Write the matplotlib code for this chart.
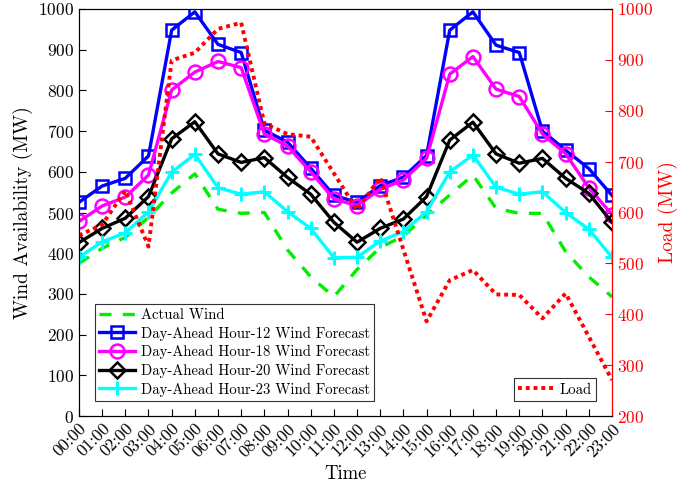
import matplotlib
matplotlib.use("Agg")
import matplotlib.pyplot as plt
import numpy as np

plt.rcParams['font.family'] = ['cmr10', 'DejaVu Serif']
plt.rcParams['axes.unicode_minus'] = False
plt.rcParams['axes.formatter.use_mathtext'] = True

hours = [f"{h:02d}:00" for h in range(24)]

actual_wind = [375, 412, 439, 488, 548, 595, 508, 498, 500, 408, 342, 293,
               360, 414, 442, 494, 543, 592, 510, 498, 498, 404, 342, 293]
da_h12 = [525, 565, 584, 639, 948, 993, 913, 893, 702, 673, 609, 542,
          525, 566, 587, 640, 948, 993, 911, 893, 700, 653, 608, 542]
da_h18 = [478, 516, 538, 592, 801, 845, 871, 856, 693, 663, 600, 533,
          517, 557, 580, 633, 840, 883, 803, 785, 693, 644, 561, 495]
da_h20 = [426, 461, 486, 539, 681, 723, 644, 623, 635, 586, 545, 476,
          427, 461, 484, 539, 678, 722, 644, 621, 633, 584, 547, 476]
da_h23 = [390, 428, 450, 502, 599, 643, 561, 545, 551, 502, 461, 389,
          390, 430, 453, 502, 600, 641, 562, 545, 551, 500, 459, 390]
load = [555, 576, 643, 533, 899, 914, 961, 973, 775, 754, 749, 677,
        605, 669, 527, 386, 467, 487, 439, 438, 392, 441, 356, 271]

x = np.arange(len(hours))

fig = plt.figure(figsize=(6.97, 4.86), dpi=100)
ax = fig.add_axes([0.1133, 0.144, 0.7647, 0.8375])
ax2 = ax.twinx()

lw = 2.4
ax.plot(x, actual_wind, color='#00ee00', ls=(0, (3.6, 3.4)), lw=lw, label='Actual Wind')
ax.plot(x, da_h12, color='#0000ff', lw=lw, marker='s', ms=8, mfc='none', mew=1.8,
        label='Day-Ahead Hour-12 Wind Forecast')
ax.plot(x, da_h18, color='#ff00ff', lw=lw, marker='o', ms=10, mfc='none', mew=1.8,
        label='Day-Ahead Hour-18 Wind Forecast')
ax.plot(x, da_h20, color='black', lw=lw, marker='D', ms=8, mfc='none', mew=1.8,
        label='Day-Ahead Hour-20 Wind Forecast')
ax.plot(x, da_h23, color='#00ffff', lw=lw, marker='+', ms=10, mew=2.2,
        label='Day-Ahead Hour-23 Wind Forecast')

ax2.plot(x, load, color='red', ls=(0, (1, 1)), lw=2.8, label='Load')

ax.set_xlim(0, 23)
ax.set_ylim(0, 1000)
ax2.set_ylim(200, 1000)
ax.set_yticks(np.arange(0, 1001, 100))
ax2.set_yticks(np.arange(200, 1001, 100))
ax.set_xticks(x)
ax.set_xticklabels(hours, rotation=45, ha='right', rotation_mode='anchor')

ax.tick_params(direction='in', labelsize=12.5, length=5)
ax2.tick_params(direction='in', labelsize=12.5, length=5, colors='red')
ax2.spines['right'].set_color('red')

ax.set_ylabel('Wind Availability (MW)', fontsize=14)
ax2.set_ylabel('Load (MW)', fontsize=14, color='red')
ax.set_xlabel('Time', fontsize=13.5)

leg = ax.legend(loc='lower left', bbox_to_anchor=(0.03, 0.037), fontsize=10.6,
                fancybox=False, edgecolor='#333333', framealpha=1,
                handlelength=2.4, borderpad=0.3, labelspacing=0.3, handletextpad=0.4,
                borderaxespad=0)
leg.get_frame().set_linewidth(0.8)
leg2 = ax2.legend(loc='lower right', bbox_to_anchor=(0.97, 0.037), fontsize=10.6,
                  fancybox=False, edgecolor='#333333', framealpha=1,
                  handlelength=2.4, borderpad=0.3, handletextpad=0.4,
                  borderaxespad=0)
leg2.get_frame().set_linewidth(0.8)

fig.savefig('out.png', dpi=100)
